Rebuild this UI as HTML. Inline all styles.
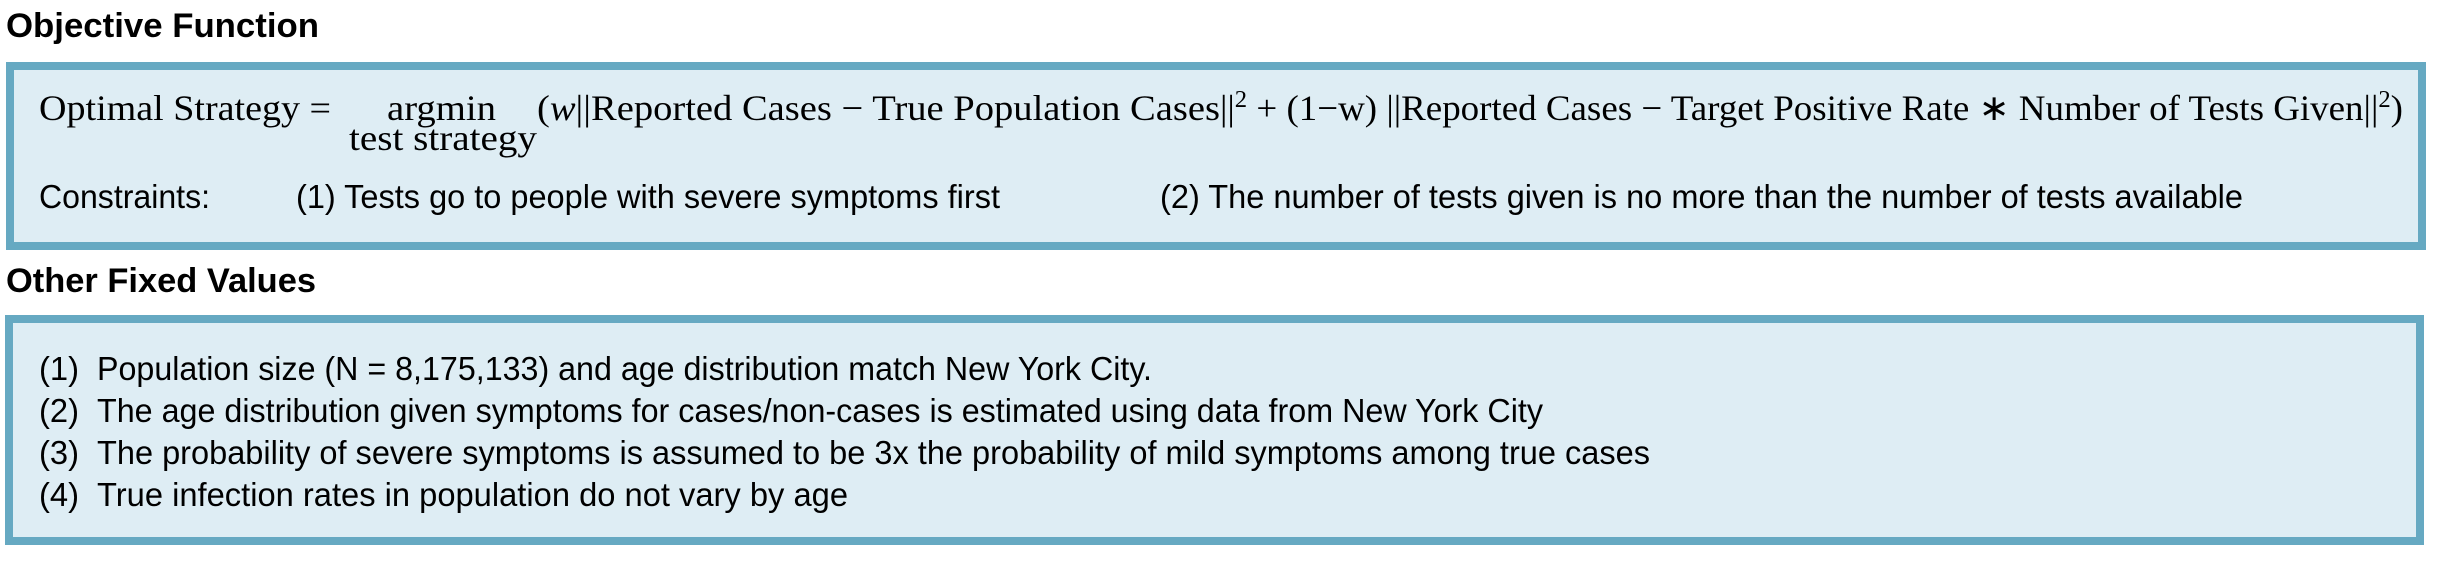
<!DOCTYPE html>
<html><head><meta charset="utf-8"><style>
html,body{margin:0;padding:0;background:#fff;}
svg{display:block;}
.s{font-family:"Liberation Sans",sans-serif;fill:#000;}
.m{font-family:"Liberation Serif",serif;fill:#000;}
</style></head><body>
<svg width="2440" height="564" viewBox="0 0 2440 564">
<text class="s" x="6" y="37" font-size="34" font-weight="bold" textLength="313" lengthAdjust="spacingAndGlyphs">Objective Function</text>
<rect x="10" y="66" width="2412" height="180" fill="#deedf4" stroke="#66a9c2" stroke-width="8"/>
<text class="m" x="39" y="120" font-size="36" textLength="292" lengthAdjust="spacingAndGlyphs">Optimal Strategy =</text>
<text class="m" x="387" y="120" font-size="36" textLength="109" lengthAdjust="spacingAndGlyphs">argmin</text>
<text class="m" x="349" y="150" font-size="36" textLength="188" lengthAdjust="spacingAndGlyphs">test strategy</text>
<text class="m" x="537" y="120" font-size="36" textLength="683" lengthAdjust="spacingAndGlyphs">(<tspan font-style="italic">w</tspan>||Reported Cases  − True Population Cases</text>
<text class="m" x="1220" y="120" font-size="36" textLength="1183" lengthAdjust="spacingAndGlyphs">||<tspan dy="-13" font-size="24">2</tspan><tspan dy="13"> + (1−w) ||Reported Cases  − Target Positive Rate ∗ Number of Tests Given||</tspan><tspan dy="-13" font-size="24">2</tspan><tspan dy="13">)</tspan></text>
<text class="s" x="39" y="208" font-size="33" textLength="171" lengthAdjust="spacingAndGlyphs">Constraints:</text>
<text class="s" x="296" y="208" font-size="33" textLength="704" lengthAdjust="spacingAndGlyphs">(1) Tests go to people with severe symptoms first</text>
<text class="s" x="1160" y="208" font-size="33" textLength="1083" lengthAdjust="spacingAndGlyphs">(2) The number of tests given is no more than the number of tests available</text>
<text class="s" x="6" y="292" font-size="34" font-weight="bold" textLength="310" lengthAdjust="spacingAndGlyphs">Other Fixed Values</text>
<rect x="9" y="319" width="2411" height="222" fill="#deedf4" stroke="#66a9c2" stroke-width="8"/>
<g>
<text class="s" x="39" y="380" font-size="33" textLength="40" lengthAdjust="spacingAndGlyphs">(1)</text>
<text class="s" x="97" y="380" font-size="33" textLength="1055" lengthAdjust="spacingAndGlyphs">Population size (N = 8,175,133) and age distribution match New York City.</text>
<text class="s" x="39" y="422" font-size="33" textLength="40" lengthAdjust="spacingAndGlyphs">(2)</text>
<text class="s" x="97" y="422" font-size="33" textLength="1446" lengthAdjust="spacingAndGlyphs">The age distribution given symptoms for cases/non-cases is estimated using data from New York City</text>
<text class="s" x="39" y="464" font-size="33" textLength="40" lengthAdjust="spacingAndGlyphs">(3)</text>
<text class="s" x="97" y="464" font-size="33" textLength="1553" lengthAdjust="spacingAndGlyphs">The probability of severe symptoms is assumed to be 3x the probability of mild symptoms among true cases</text>
<text class="s" x="39" y="506" font-size="33" textLength="40" lengthAdjust="spacingAndGlyphs">(4)</text>
<text class="s" x="97" y="506" font-size="33" textLength="751" lengthAdjust="spacingAndGlyphs">True infection rates in population do not vary by age</text>
</g>
</svg>
</body></html>
